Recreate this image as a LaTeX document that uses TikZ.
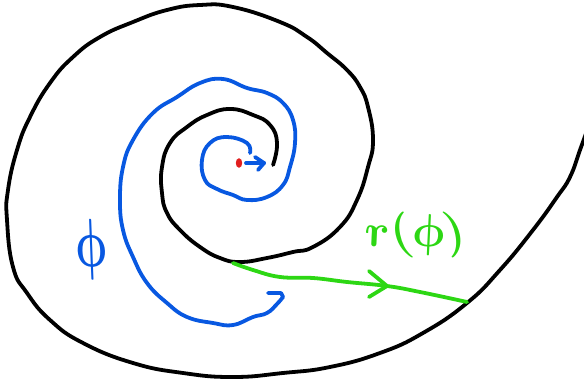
\documentclass[tikz,border=0pt]{standalone}
\usepackage{amsmath}
\definecolor{spiralblue}{RGB}{8,88,225}
\definecolor{radgreen}{RGB}{45,215,20}
\definecolor{dotred}{RGB}{225,30,30}
\tikzset{
  pen/.style={line width=3.8pt, line cap=round, line join=round},
  blackpen/.style={pen, black},
  bluepen/.style={pen, spiralblue},
  greenpen/.style={pen, radgreen},
  handlabel/.style={inner sep=0pt, xslant=-0.2},
}
\begin{document}
\begin{tikzpicture}[x=1pt,y=-1pt]
\useasboundingbox (0,0) rectangle (584,379);
% black spiral
\draw[blackpen] plot[smooth,tension=0.8] coordinates {
(273,165) (277,143) (270,125) (253,115) (230,109) (207,115) (187,127) (170,143)
(162,167) (162,193) (167,213) (180,230) (200,247) (220,258) (240,262) (267,258)
(293,252) (313,247) (340,227) (357,200) (368,167) (373,140) (368,107) (360,87)
(347,70) (327,53) (307,37) (280,22) (233,7) (200,5) (167,10) (133,22) (100,37)
(73,57) (50,83) (30,117) (17,150) (8,190) (7,220) (13,267) (27,293) (50,320)
(83,343) (133,363) (183,373) (233,377) (283,373) (330,367) (380,353) (423,333)
(467,303) (500,270) (533,230) (557,197) (570,177) (580,150) (588,128)};
% blue spiral
\draw[bluepen] plot[smooth,tension=0.75] coordinates {
(250,153) (247,143) (227,137) (210,143) (202,160) (205,180) (217,189) (233,195)
(247,200) (267,197) (283,185) (290,167) (295,143) (293,120) (283,103) (267,93)
(247,88) (223,79) (200,83) (177,97) (153,113) (133,140) (123,167) (120,200)
(123,230) (133,257) (147,283) (167,303) (187,317) (213,323) (233,325) (253,317)
(267,313) (277,304) (283,297)};
\draw[bluepen] (283,297) -- (281,293) -- (268,293);
% red centre dot and small blue arrow
\fill[dotred] (239,163) ellipse [x radius=3.2, y radius=4.8];
\draw[bluepen] (246,163) -- (264,163);
\draw[bluepen] (255,157) -- (264,163) -- (258,170);
% green radius
\draw[greenpen] plot[smooth,tension=0.7] coordinates {
(233,263) (253,270) (280,277) (313,278) (347,282) (387,286) (420,292) (467,302)};
\draw[greenpen] (369,271) -- (387,286) -- (369,297);
% labels
\node[handlabel, text=spiralblue, xscale=4.4, yscale=6.8] (philabel) at (91,250) {$\boldsymbol{\phi}$};
\node[handlabel, text=radgreen, scale=4.6] (rlabel) at (415,235) {$\boldsymbol{r(\phi)}$};
\end{tikzpicture}
\end{document}
